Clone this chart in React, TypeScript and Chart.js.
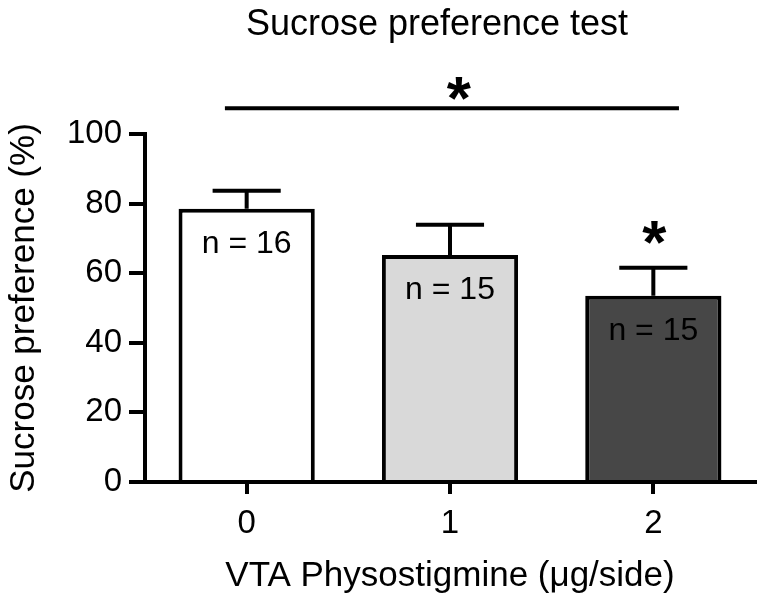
import React, { useEffect, useRef } from "react";
import { Chart, registerables } from "chart.js";

Chart.register(...registerables);

const categories = ["0", "1", "2"];
const means = [78.5, 65.2, 53.5];
const sems = [5.2, 8.7, 8.1];
const nCounts = [16, 15, 15];
const fills = ["#ffffff", "#d9d9d9", "#474747"];
const yTicks = [0, 20, 40, 60, 80, 100];
const sigBarAsterisk = [false, false, true];
const sigLine = { from: -0.107, to: 2.126, y: 107.4 };

const FONT = "'Liberation Sans', Arial, Helvetica, sans-serif";

const overlay = {
  id: "overlay",
  afterDatasetsDraw(chart: any) {
    const ctx = chart.ctx;
    const xs = chart.scales.x;
    const ys = chart.scales.y;
    const meta = chart.getDatasetMeta(0);
    ctx.save();
    ctx.strokeStyle = "#000";
    ctx.fillStyle = "#000";
    ctx.lineWidth = 4;
    ctx.lineCap = "butt";
    means.forEach((m, i) => {
      const x = xs.getPixelForValue(i);
      const yBar = ys.getPixelForValue(m);
      const yTop = ys.getPixelForValue(m + sems[i]);
      const half = meta.data[i].width / 4;
      ctx.beginPath();
      ctx.moveTo(x, yBar);
      ctx.lineTo(x, yTop);
      ctx.moveTo(x - half, yTop);
      ctx.lineTo(x + half, yTop);
      ctx.stroke();
      ctx.font = `32px ${FONT}`;
      ctx.textAlign = "center";
      ctx.textBaseline = "middle";
      ctx.fillText(`n = ${nCounts[i]}`, x, yBar + 35);
      if (sigBarAsterisk[i]) {
        ctx.font = `bold 62px ${FONT}`;
        ctx.textBaseline = "alphabetic";
        ctx.fillText("*", x + 1, yTop - 5);
      }
    });
    // significance line
    const x1 = xs.getPixelForValue(sigLine.from);
    const x2 = xs.getPixelForValue(sigLine.to);
    const ly = ys.getPixelForValue(sigLine.y);
    ctx.beginPath();
    ctx.moveTo(x1, ly);
    ctx.lineTo(x2, ly);
    ctx.stroke();
    ctx.font = `bold 62px ${FONT}`;
    ctx.textAlign = "center";
    ctx.textBaseline = "alphabetic";
    ctx.fillText("*", (x1 + x2) / 2 + 7, ly + 11);
    // title
    ctx.font = `36px ${FONT}`;
    ctx.textBaseline = "alphabetic";
    ctx.fillText("Sucrose preference test", (chart.chartArea.left + chart.chartArea.right) / 2 - 13, 35);
    ctx.restore();
  },
};

export default function App() {
  const ref = useRef<HTMLCanvasElement>(null);
  useEffect(() => {
    if (!ref.current) return;
    const chart = new Chart(ref.current, {
      type: "bar",
      data: {
        labels: categories,
        datasets: [
          {
            data: means,
            backgroundColor: fills,
            borderColor: "#000",
            borderWidth: 4,
            categoryPercentage: 1,
            barPercentage: 0.67,
          },
        ],
      },
      options: {
        responsive: false,
        animation: false,
        layout: { padding: { top: 134, right: 7, left: 0, bottom: 0 } },
        plugins: { legend: { display: false }, tooltip: { enabled: false }, title: { display: false } },
        scales: {
          x: {
            offset: true,
            afterFit: (s: any) => {
              s.height = 120;
            },
            grid: {
              offset: false,
              drawOnChartArea: false,
              drawTicks: true,
              tickLength: 12,
              lineWidth: 4,
              color: "#000",
            },
            border: { display: true, width: 4, color: "#000" },
            ticks: { color: "#000", font: { family: FONT, size: 33 }, padding: 10 },
            title: {
              display: true,
              text: "VTA Physostigmine (μg/side)",
              color: "#000",
              font: { family: FONT, size: 35 },
              padding: { top: 0, bottom: 5 },
            },
          },
          y: {
            min: 0,
            max: 100,
            afterFit: (s: any) => {
              s.width = 145;
            },
            afterBuildTicks: (s: any) => {
              s.ticks = yTicks.map((v) => ({ value: v }));
            },
            grid: {
              drawOnChartArea: false,
              drawTicks: true,
              tickLength: 16,
              lineWidth: 4,
              color: "#000",
            },
            border: { display: true, width: 4, color: "#000" },
            ticks: { color: "#000", font: { family: FONT, size: 33 }, padding: 7 },
            title: {
              display: true,
              text: "Sucrose preference (%)",
              color: "#000",
              font: { family: FONT, size: 35 },
              padding: { top: 3, bottom: 0 },
            },
          },
        },
      },
      plugins: [overlay],
    });
    return () => chart.destroy();
  }, []);
  return (
    <div style={{ position: "fixed", left: 0, top: 0, width: 762, height: 602, background: "#fff" }}>
      <canvas ref={ref} width={762} height={602} />
    </div>
  );
}
